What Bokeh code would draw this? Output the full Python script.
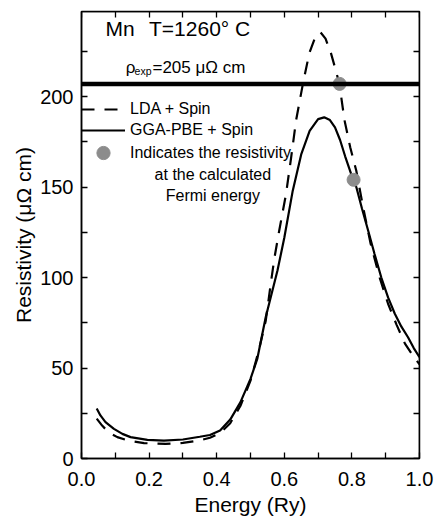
from bokeh.plotting import figure
from bokeh.models import (Span, Label, Legend, LegendItem, LinearAxis,
                          FixedTicker, NumeralTickFormatter, Range1d)
from bokeh.embed import file_html
from bokeh.resources import INLINE

# ---- data ----
energy_gga = [0.045, 0.056, 0.071, 0.096, 0.121, 0.145, 0.195, 0.244, 0.30, 0.35,
              0.38, 0.41, 0.44, 0.47, 0.50, 0.52, 0.545, 0.58, 0.60, 0.625,
              0.65, 0.675, 0.70, 0.718, 0.735, 0.75, 0.765, 0.78, 0.80, 0.813,
              0.83, 0.848, 0.867, 0.887, 0.907, 0.927, 0.946, 0.966, 0.983, 1.0]
rho_gga = [27.6, 23.8, 20.1, 16.4, 13.6, 11.8, 10.3, 9.9, 10.5, 12,
           13, 15.5, 21.5, 31, 44, 55, 78, 104, 122, 148,
           168, 181, 187.5, 188.5, 187, 183, 176, 167, 156, 150,
           138, 126, 113, 100, 89, 80, 73, 67, 61, 56]

energy_lda = [0.045, 0.061, 0.08, 0.106, 0.14, 0.185, 0.249, 0.30, 0.35,
              0.38, 0.41, 0.44, 0.47, 0.50, 0.525, 0.545, 0.561, 0.571, 0.585,
              0.605, 0.62, 0.635, 0.655, 0.674, 0.69, 0.707, 0.722, 0.738, 0.75,
              0.763, 0.778, 0.795, 0.813, 0.833, 0.855, 0.882, 0.907, 0.932,
              0.957, 0.98, 1.0]
rho_lda = [22, 18.2, 14.5, 11.8, 9.8, 8.5, 8.1, 8.6, 10,
           11.5, 14, 19.5, 29, 43, 60, 76, 98, 111, 126,
           146, 166, 187, 207, 224, 232, 235.5, 232, 224, 216,
           207, 187, 172, 159, 139, 119, 100, 85.5, 74,
           63.5, 57, 52]

fermi_energy = [0.7636, 0.805]
fermi_rho = [207, 154]
rho_exp_line = 207

x_ticks = [0.0, 0.2, 0.4, 0.6, 0.8, 1.0]
x_minor = [0.1, 0.3, 0.5, 0.7, 0.9]
y_ticks = [0, 50, 100, 150, 200]
y_minor = [25, 75, 125, 175, 225]
x_max = 1.0
y_max = 247

FONT = "Liberation Sans"

p = figure(width=440, height=519, x_range=Range1d(0, x_max), y_range=Range1d(0, y_max),
           output_backend="svg", toolbar_location=None,
           min_border_left=81, min_border_right=21, min_border_top=11,
           min_border_bottom=61,
           x_axis_label="Energy (Ry)", y_axis_label="Resistivity (μΩ cm)")
p.grid.visible = False
p.outline_line_color = "black"
p.outline_line_width = 1.5
p.background_fill_color = "white"
p.border_fill_color = "white"

def style_axis(ax, ticks, minor, show_labels):
    ax.ticker = FixedTicker(ticks=ticks, minor_ticks=minor)
    ax.axis_line_width = 1.5
    ax.axis_line_color = "black"
    ax.major_tick_in = 6
    ax.major_tick_out = 0
    ax.minor_tick_in = 6
    ax.minor_tick_out = 0
    ax.major_tick_line_width = 1.3
    ax.minor_tick_line_width = 1.3
    if show_labels:
        ax.major_label_text_font = FONT
        ax.major_label_text_font_size = "20px"
        ax.major_label_text_color = "black"
        ax.axis_label_text_font = FONT
        ax.axis_label_text_font_size = "21px"
        ax.axis_label_text_font_style = "normal"
        ax.axis_label_text_color = "black"
    else:
        ax.major_label_text_font_size = "0px"
        ax.major_label_text_color = None
        ax.major_label_standoff = 0

xa = p.xaxis[0]
style_axis(xa, x_ticks, x_minor, True)
xa.formatter = NumeralTickFormatter(format="0.0")
xa.major_label_standoff = 13
xa.axis_label_standoff = 4

ya = p.yaxis[0]
style_axis(ya, y_ticks, y_minor, True)
ya.major_label_standoff = 8
ya.axis_label_standoff = 2

top = LinearAxis(fixed_location=y_max)
style_axis(top, x_ticks, x_minor, False)
p.add_layout(top, "above")
right = LinearAxis(fixed_location=x_max)
style_axis(right, y_ticks, y_minor, False)
p.add_layout(right, "right")

p.add_layout(Span(location=rho_exp_line, dimension="width",
                  line_color="black", line_width=4.5))

r_lda = p.line(energy_lda, rho_lda, line_color="black", line_width=2.2,
               line_dash="13 10")
r_gga = p.line(energy_gga, rho_gga, line_color="black", line_width=2.2)
r_dot = p.scatter(fermi_energy, fermi_rho, size=13, fill_color="#8c8c8c",
                  line_color="#8c8c8c")

common = dict(glyph_width=44, label_standoff=5, spacing=1, padding=0,
              margin=0, border_line_alpha=0, background_fill_alpha=0,
              label_text_font=FONT, label_text_font_size="16px",
              label_text_color="black")
legend1 = Legend(items=[LegendItem(label="LDA + Spin", renderers=[r_lda]),
                        LegendItem(label="GGA-PBE + Spin", renderers=[r_gga])],
                 location=(0, 318), glyph_height=20, label_height=20, **common)
p.add_layout(legend1)
legend2 = Legend(items=[LegendItem(label="Indicates the resistivity", renderers=[r_dot])],
                 location=(0, 289), glyph_height=33, label_height=33, **common)
p.add_layout(legend2)

def lab(x, y, text, size, align="left"):
    p.add_layout(Label(x=x, y=y, text=text, text_font=FONT,
                       text_font_size=size, text_align=align,
                       text_baseline="middle", text_color="black"))

lab(0.3887, 156.9, "at the calculated", "16px", "center")
lab(0.3887, 145.3, "Fermi energy", "16px", "center")
lab(0.0712, 237.6, "Mn", "21px")
lab(0.1997, 237.6, "T=1260° C", "21px")
lab(0.1306, 215.9, "ρ", "17px")
lab(0.1570, 214.0, "exp", "10.5px")
lab(0.2100, 215.9, "=205 μΩ cm", "17px")

open("out.html", "w").write(file_html(p, INLINE))
